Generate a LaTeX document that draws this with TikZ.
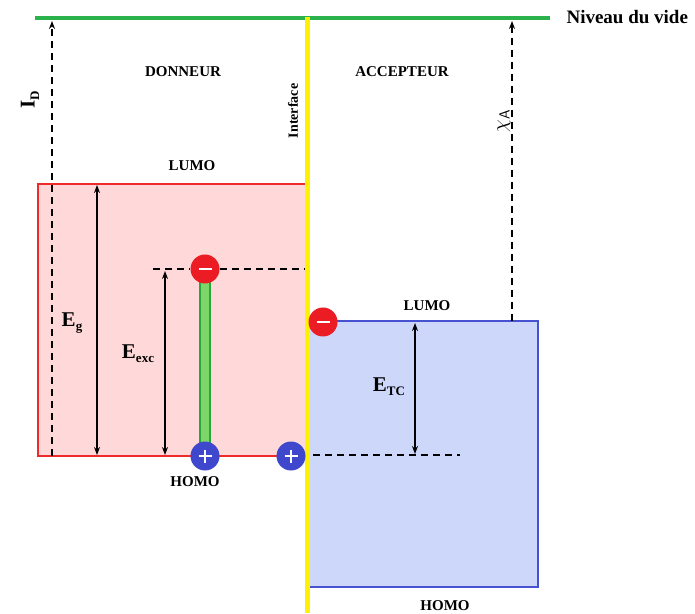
\documentclass[tikz,border=0pt]{standalone}
\usepackage{fontspec}
\setmainfont{Liberation Serif}
\usetikzlibrary{arrows.meta,positioning}
\definecolor{vide}{HTML}{2BB24C}
\definecolor{interf}{HTML}{FFF200}
\definecolor{donfill}{HTML}{FFD9D9}
\definecolor{donline}{HTML}{EE2A2A}
\definecolor{accfill}{HTML}{CDD7FA}
\definecolor{accline}{HTML}{4652D0}
\definecolor{elec}{HTML}{EC1C24}
\definecolor{trou}{HTML}{3F48CC}
\definecolor{excin}{HTML}{7ED66A}
\definecolor{excout}{HTML}{26A83A}
\newcommand{\lowsub}[1]{\raisebox{-0.45ex}{\fontsize{13}{13}\selectfont #1}}
\tikzset{
  title/.style={font=\fontsize{15}{15}\selectfont\bfseries},
  levname/.style={font=\fontsize{15}{15}\selectfont\bfseries},
  elabel/.style={font=\fontsize{21}{21}\selectfont\bfseries},
  charge/.style={circle,inner sep=0pt,minimum size=29pt},
  gapArrow/.style={{Stealth[length=8pt,width=6pt]}-{Stealth[length=8pt,width=6pt]},line width=1.6pt},
  vacArrow/.style={-{Stealth[length=8pt,width=6pt]},line width=1.8pt,dash pattern=on 7pt off 5pt},
  levdash/.style={line width=1.6pt,dash pattern=on 7pt off 5pt}
}

\begin{document}
\begin{tikzpicture}[x=10pt,y=10pt]
  \useasboundingbox[fill=white] (0,0) rectangle (69.5,61.3);

  % boxes
  \draw[donline,fill=donfill,line width=2.6pt] (3.8,15.7) rectangle (30.7,42.9);
  \draw[accline,fill=accfill,line width=2.6pt] (30.7,2.6) rectangle (53.8,29.2);

  % vacuum level and interface
  \coordinate (V0) at (3.5,59.5);
  \coordinate (V1) at (55.0,59.5);
  \draw[vide,line width=3.5pt] (V0) -- (V1);
  \node[anchor=west,font=\fontsize{19}{19}\selectfont\bfseries] (niv) at (56.3,59.6) {Niveau du vide};
  \coordinate (I0) at (30.7,59.6);
  \coordinate (I1) at (30.7,0);
  \draw[interf,line width=5pt] (I0) -- (I1);
  \node[rotate=90,font=\fontsize{14}{14}\selectfont\bfseries] (intf) at (29.3,50.2) {Interface};

  \node[title] (don) at (18.3,54.1) {DONNEUR};
  \node[title] (acc) at (40.2,54.1) {ACCEPTEUR};
  \node[levname] (lumoD) at (19.2,44.7) {LUMO};
  \node[levname] (homoD) at (19.5,13.1) {HOMO};
  \node[levname] (lumoA) at (42.7,30.7) {LUMO};
  \node[levname] (homoA) at (44.5,0.7) {HOMO};

  % ionisation / affinity
  \coordinate (ID0) at (5.2,15.7);
  \coordinate (ID1) at (5.2,59.2);
  \draw[vacArrow] (ID0) -- (ID1);
  \node[elabel,rotate=90] (idlab) at (3.0,51.3) {I\lowsub{D}};
  \coordinate (XA0) at (51.2,29.2);
  \coordinate (XA1) at (51.2,59.2);
  \draw[vacArrow] (XA0) -- (XA1);
  \node[rotate=90,font=\fontsize{21}{21}\selectfont] (xalab) at (50.4,49.2) {$\chi_{\mathsf{A}}$};

  % gap
  \coordinate (G0) at (9.7,15.8);
  \coordinate (G1) at (9.7,42.8);
  \draw[gapArrow] (G0) -- (G1);
  \node[elabel] (eg) at (7.2,29.0) {E\lowsub{g}};

  % exciton
  \fill[excin] (20.0,15.7) rectangle (21.0,34.4);
  \draw[excout,line width=2pt] (20.0,15.7) rectangle (21.0,34.4);
  \node[charge,fill=elec] (eD) at (20.5,34.4) {};
  \node[charge,fill=trou] (hD) at (20.5,15.7) {};
  \node[charge,fill=trou] (hI) at (29.1,15.7) {};
  \node[charge,fill=elec] (eA) at (32.3,29.1) {};
  \foreach \c in {eD,eA}
    \draw[white,line width=2.2pt] ([xshift=-6.5pt]\c.center) -- ([xshift=6.5pt]\c.center);
  \foreach \c in {hD,hI}
    \draw[white,line width=2.2pt] ([xshift=-6.5pt]\c.center) -- ([xshift=6.5pt]\c.center)
                                  ([yshift=-6.5pt]\c.center) -- ([yshift=6.5pt]\c.center);

  \coordinate (X0) at (15.3,34.4);
  \coordinate (X1) at (30.5,34.4);
  \draw[levdash] (X0) -- (eD.west) (eD.east) -- (X1);
  \coordinate (EX0) at (16.5,15.8);
  \coordinate (EX1) at (16.5,34.2);
  \draw[gapArrow] (EX0) -- (EX1);
  \node[elabel] (eexc) at (13.8,25.9) {E\lowsub{exc}};

  % charge transfer
  \coordinate (T0) at (31.3,15.8);
  \coordinate (T1) at (46.0,15.8);
  \draw[levdash] (T0) -- (T1);
  \coordinate (TC0) at (41.5,15.9);
  \coordinate (TC1) at (41.5,29.0);
  \draw[gapArrow] (TC0) -- (TC1);
  \node[elabel] (etc) at (38.9,22.6) {E\lowsub{TC}};
\end{tikzpicture}
\end{document}
